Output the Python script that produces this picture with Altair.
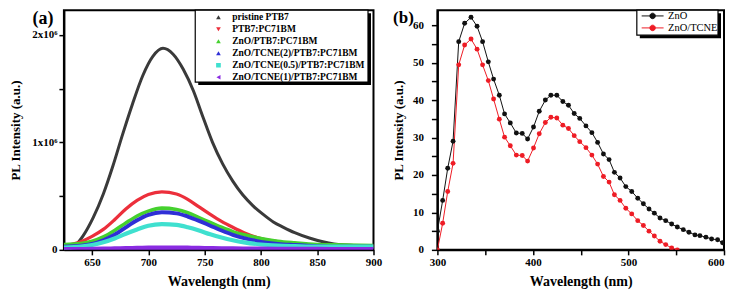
import altair as alt
import pandas as pd

# ---------------- Panel (a) data ----------------
a_names = ["pristine PTB7", "PTB7:PC71BM", "ZnO/PTB7:PC71BM",
           "ZnO/TCNE(2)/PTB7:PC71BM", "ZnO/TCNE(0.5)/PTB7:PC71BM",
           "ZnO/TCNE(1)/PTB7:PC71BM"]
a_colors = ["#3a3a3a", "#ec2f3b", "#45d12e", "#2f2fd6", "#3fe0cf", "#8a2be2"]
a_shapes = ["triangle-up", "triangle-down", "triangle-up", "triangle-up",
            "square", "triangle-left"]
a_widths = [3, 4.5, 4.5, 4.5, 4.5, 4.5]

a_black_wl = [630, 635, 642, 651, 660, 668.5, 677, 686, 695, 704, 713, 722, 731,
              740, 748, 757, 766, 775, 784, 793, 802, 811, 820, 830, 843, 855,
              865, 875, 900]
a_black_pl = [0.01, 0.04, 0.13, 0.30, 0.52, 0.78, 1.07, 1.36, 1.62, 1.80, 1.875,
              1.82, 1.68, 1.48, 1.25, 1.00, 0.80, 0.64, 0.51, 0.41, 0.33, 0.26,
              0.21, 0.16, 0.11, 0.075, 0.055, 0.045, 0.035]

a_wl = [625, 640, 650, 660, 670, 680, 690, 700, 712, 725, 735, 745, 755, 765,
        775, 785, 800, 815, 830, 850, 875, 900]
a_red = [0.035, 0.075, 0.125, 0.19, 0.28, 0.38, 0.46, 0.515, 0.54, 0.52, 0.47,
         0.40, 0.33, 0.265, 0.21, 0.16, 0.105, 0.075, 0.055, 0.045, 0.04, 0.035]
a_green = [0.05, 0.06, 0.08, 0.12, 0.18, 0.25, 0.315, 0.36, 0.388, 0.375, 0.345,
           0.30, 0.255, 0.21, 0.17, 0.14, 0.105, 0.08, 0.065, 0.05, 0.045, 0.04]
a_blue = [0.03, 0.04, 0.055, 0.09, 0.14, 0.21, 0.275, 0.325, 0.35, 0.34, 0.31,
          0.27, 0.225, 0.18, 0.14, 0.11, 0.075, 0.055, 0.045, 0.035, 0.03, 0.03]
a_cyan = [0.02, 0.03, 0.045, 0.07, 0.105, 0.15, 0.19, 0.225, 0.24, 0.232, 0.21,
          0.18, 0.145, 0.115, 0.09, 0.07, 0.05, 0.04, 0.035, 0.03, 0.03, 0.03]
a_purple = [0.005, 0.006, 0.008, 0.01, 0.012, 0.015, 0.017, 0.019, 0.02, 0.02,
            0.019, 0.017, 0.015, 0.013, 0.012, 0.011, 0.01, 0.008, 0.007, 0.007,
            0.006, 0.006]

a_ticks_x = [650, 675, 700, 725, 750, 775, 800, 825, 850, 875, 900]
a_ticks_y = [0, 0.5, 1, 1.5, 2]

# ---------------- Panel (b) data ----------------
b_names = ["ZnO", "ZnO/TCNE"]
b_colors = ["#111111", "#ee1c25"]
b_wl = [300, 305.5, 310.8, 316.4, 322.3, 328.5, 335.2, 341.5, 347.3, 353.3,
        358.8, 364.8, 370.3, 376.3, 382.6, 388.8, 394.4, 400.6, 406.6, 413.0,
        418.8, 425.0, 431.3, 437.2, 443.2, 449.0, 455.5, 461.7, 467.7, 473.8,
        479.7, 485.3, 491.2, 497.2, 503.4, 509.7, 515.6, 521.5, 527.1, 533.0,
        539.0, 545.2, 551.1, 557.4, 563.3, 569.6, 574.8, 581.1, 587.0, 593.3,
        598.5]
b_zno = [5, 13.2, 21.8, 29.0, 55.6, 60.5, 62.1, 59.7, 55.6, 50.2, 45.6, 41.3,
         36.3, 33.9, 31.2, 31.1, 29.6, 32.8, 37.0, 40.0, 41.3, 41.3, 39.6, 38.6,
         36.4, 35.1, 33.1, 31.3, 28.7, 25.6, 24.1, 20.7, 19.2, 16.9, 15.6, 13.8,
         12.3, 10.9, 9.8, 8.5, 7.8, 6.9, 6.1, 5.4, 4.7, 4.0, 3.8, 3.4, 2.9, 2.7,
         1.9]
b_tcne = [0, 7.1, 15.6, 23.1, 49.4, 54.7, 56.3, 53.6, 49.4, 45.2, 40.3, 34.9,
          30.1, 27.8, 25.3, 25.2, 23.7, 27.2, 31.0, 34.0, 35.4, 35.2, 33.3, 32.4,
          30.5, 28.9, 27.3, 25.3, 22.9, 19.6, 18.1, 14.7, 13.2, 11.1, 9.6, 7.8,
          6.5, 5.0, 3.7, 2.3, 1.4, 0.5, 0.0]

b_ticks_x = [300, 350, 400, 450, 500, 550, 600]
b_ticks_y = [0, 5, 10, 15, 20, 25, 30, 35, 40, 45, 50, 55, 60]

panel_labels = ["(a)", "(b)"]
x_title = "Wavelength (nm)"
y_title = "PL Intensity (a.u.)"

FONT = "Liberation Serif"

# ---------------- build tables ----------------
rows = []
series_a = [(a_black_wl, a_black_pl), (a_wl, a_red), (a_wl, a_green),
            (a_wl, a_blue), (a_wl, a_cyan), (a_wl, a_purple)]
for k, (name, (wl, pl)) in enumerate(zip(a_names, series_a)):
    for w, v in zip(wl, pl):
        rows.append({"sample": name, "k": k, "wl": w, "pl": v})
df_a = pd.DataFrame(rows)

rows = []
for k, (name, vals) in enumerate(zip(b_names, [b_zno, b_tcne])):
    for w, v in zip(b_wl, vals):
        rows.append({"film": name, "k": k, "wl": w, "pl": v})
df_b = pd.DataFrame(rows)

W_A, W_B, H = 310, 287, 240

# ---------------- panel (a) ----------------
xa = alt.X("wl:Q", scale=alt.Scale(domain=[625, 900], nice=False, zero=False),
           axis=alt.Axis(values=a_ticks_x, title=x_title,
                         labelExpr="datum.value % 50 == 0 ? datum.label : ''",
                         labelFlush=False, tickSize=5, labelPadding=2,
                         titlePadding=7, titleFontSize=14))
ya = alt.Y("pl:Q", scale=alt.Scale(domain=[0, 2.23], nice=False),
           axis=alt.Axis(values=a_ticks_y, title=y_title,
                         labelExpr="datum.value == 0 ? '0' : (datum.value % 1 == 0 ? datum.value + 'x10⁶' : '')",
                         tickSize=5, labelPadding=2, titlePadding=9,
                         titleFontSize=13))

lines_a = alt.Chart(df_a).mark_line(interpolate="monotone", clip=True).encode(
    x=xa, y=ya,
    color=alt.Color("sample:N", scale=alt.Scale(domain=a_names, range=a_colors), legend=None),
    strokeWidth=alt.StrokeWidth("sample:N", scale=alt.Scale(domain=a_names, range=a_widths), legend=None),
    order="wl:Q",
)

leg_a = dict(orient="none", legendX=150, legendY=1.2, padding=0, symbolOffset=0,
             labelOffset=9, clipHeight=11.86, rowPadding=0, symbolSize=22,
             symbolOpacity=1, symbolStrokeWidth=0, labelFont=FONT,
             labelFontSize=9.5, labelFontWeight="bold", labelColor="black",
             labelLimit=300)
legend_pts_a = alt.Chart(df_a).mark_point(filled=True, opacity=0).encode(
    x="wl:Q", y="pl:Q",
    color=alt.Color("sample:N", scale=alt.Scale(domain=a_names, range=a_colors),
                    legend=alt.Legend(**leg_a), title=None),
    shape=alt.Shape("sample:N", scale=alt.Scale(domain=a_names, range=a_shapes),
                    legend=alt.Legend(**leg_a), title=None),
)

one = pd.DataFrame({"k": [0]})
shadow_a = alt.Chart(one).mark_rect(color="black").encode(
    x=alt.value(134.5), x2=alt.value(307.5), y=alt.value(3), y2=alt.value(75))
box_a = alt.Chart(one).mark_rect(fill="white", stroke="black", strokeWidth=1.2).encode(
    x=alt.value(131.5), x2=alt.value(304.5), y=alt.value(0), y2=alt.value(72))

lab_a = alt.Chart(pd.DataFrame({"t": [panel_labels[0]]})).mark_text(
    font=FONT, fontSize=18, fontWeight="bold", baseline="top", align="center",
    color="black").encode(text="t:N", x=alt.value(-21), y=alt.value(0))

panel_a = alt.layer(lines_a, shadow_a, box_a, legend_pts_a, lab_a).resolve_scale(
    color="independent", shape="independent").resolve_legend(
    color="independent", shape="independent").properties(width=W_A, height=H)

# ---------------- panel (b) ----------------
xb = alt.X("wl:Q", scale=alt.Scale(domain=[300, 600], nice=False, zero=False),
           axis=alt.Axis(values=b_ticks_x, title=x_title,
                         labelExpr="datum.value % 100 == 0 ? datum.label : ''",
                         labelAlign={"condition": {"test": "datum.value >= 600", "value": "right"}, "value": "center"},
                         labelFlush=False, tickSize=5, labelPadding=2,
                         titlePadding=7, titleFontSize=14))
yb = alt.Y("pl:Q", scale=alt.Scale(domain=[0, 64], nice=False),
           axis=alt.Axis(values=b_ticks_y, title=y_title,
                         labelExpr="datum.value % 10 == 0 ? datum.label : ''",
                         tickSize=6, labelPadding=8, titlePadding=7,
                         titleFontSize=13))

leg_b = dict(orient="none", legendX=204, legendY=0, padding=0, symbolOffset=0,
             labelOffset=4, clipHeight=11.5, rowPadding=0, symbolSize=484,
             symbolType="M-1,0L-0.25,0M0.25,0L1,0M-0.25,0A0.25,0.25 0 1,0 0.25,0A0.25,0.25 0 1,0 -0.25,0",
             symbolStrokeWidth=1, labelFont=FONT, labelFontSize=10.5,
             labelFontWeight="normal", labelColor="black")

lines_b = alt.Chart(df_b).mark_line(
    strokeWidth=1, clip=True,
    point=alt.OverlayMarkDef(filled=True, size=24)).encode(
    x=xb, y=yb,
    color=alt.Color("film:N", scale=alt.Scale(domain=b_names, range=b_colors),
                    legend=alt.Legend(**leg_b), title=None),
    order="wl:Q",
)

shadow_b = alt.Chart(one).mark_rect(color="black").encode(
    x=alt.value(202.7), x2=alt.value(284), y=alt.value(3), y2=alt.value(28))
box_b = alt.Chart(one).mark_rect(fill="white", stroke="black", strokeWidth=1.2).encode(
    x=alt.value(199.7), x2=alt.value(281), y=alt.value(0), y2=alt.value(25))

lab_b = alt.Chart(pd.DataFrame({"t": [panel_labels[1]]})).mark_text(
    font=FONT, fontSize=17, fontWeight="bold", baseline="top", align="center",
    color="black").encode(text="t:N", x=alt.value(-34), y=alt.value(0))

panel_b = alt.layer(lines_b, shadow_b, box_b, lab_b).properties(width=W_B, height=H)

chart = alt.hconcat(panel_a, panel_b, spacing=8).resolve_scale(
    color="independent", shape="independent", strokeWidth="independent",
    x="independent", y="independent").resolve_legend(
    color="independent", shape="independent").configure_view(
    stroke="black", strokeWidth=2).configure_axis(
    domainColor="black", domainWidth=2, tickColor="black", tickWidth=1.5,
    labelFont=FONT, labelFontWeight="bold", labelFontSize=11, labelColor="black",
    titleFont=FONT, titleFontWeight="bold", titleColor="black", grid=False
).properties(background="white", padding=0)

chart.save("out.html", embed_options={"renderer": "svg", "actions": False})
